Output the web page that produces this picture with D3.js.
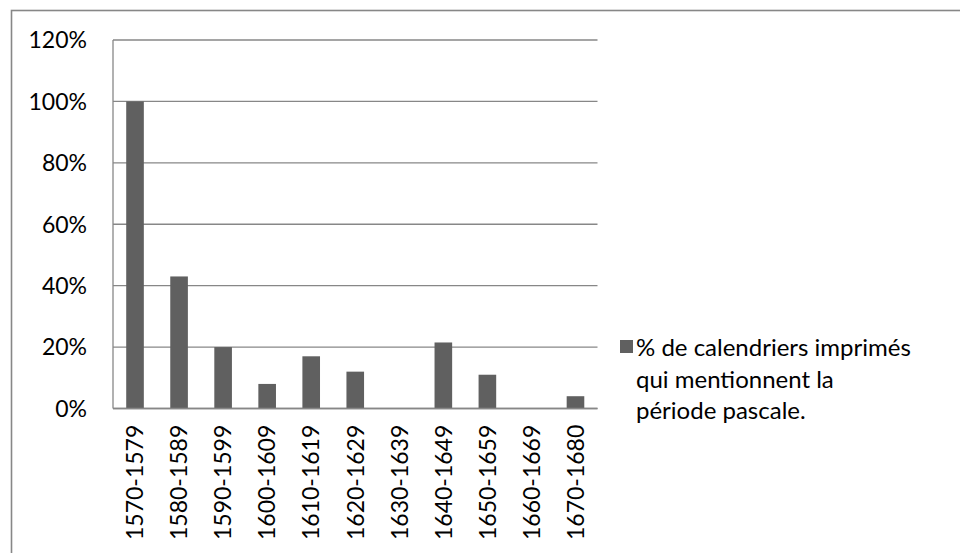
<!DOCTYPE html>
<html>
<head>
<meta charset="utf-8">
<script src="https://cdn.jsdelivr.net/npm/d3@7"></script>
<style>
  html, body { margin: 0; padding: 0; background: #fff; }
  svg { display: block; }
</style>
</head>
<body>
<div id="chart"></div>
<script>
// periods on the x axis
const periods = ["1570-1579", "1580-1589", "1590-1599", "1600-1609", "1610-1619",
  "1620-1629", "1630-1639", "1640-1649", "1650-1659", "1660-1669", "1670-1680"];
// share of printed calendars mentioning the Easter period (%)
const shares = [100, 43, 20, 8, 17, 12, 0, 21.5, 11, 0, 4];
const yTicks = [0, 20, 40, 60, 80, 100, 120];
const seriesName = ["% de calendriers imprimés", "qui mentionnent la", "période pascale."];

const width = 960, height = 553;
const font = "Lato, 'Open Sans', sans-serif";

const svg = d3.select("#chart").append("svg")
    .attr("width", width)
    .attr("height", height)
    .style("font-family", font);

// outer chart frame
svg.append("rect")
    .attr("x", 11.5).attr("y", 10.5)
    .attr("width", width + 10).attr("height", height + 10)
    .attr("fill", "none")
    .attr("stroke", "#878787")
    .attr("stroke-width", 1.6);

const plot = {left: 113, right: 597.5, top: 40, bottom: 408.5};

const x = d3.scaleBand()
    .domain(periods)
    .range([plot.left, plot.right])
    .paddingInner(0.6)
    .paddingOuter(0.3);

const y = d3.scaleLinear()
    .domain([0, 120])
    .range([plot.bottom, plot.top]);

// gridlines
svg.append("g")
    .selectAll("line")
    .data(yTicks)
    .join("line")
    .attr("x1", plot.left).attr("x2", plot.right)
    .attr("y1", d => y(d)).attr("y2", d => y(d))
    .attr("stroke", "#878787")
    .attr("stroke-width", 1.3);

// y tick labels
svg.append("g")
    .selectAll("text")
    .data(yTicks)
    .join("text")
    .attr("x", 87)
    .attr("y", d => y(d))
    .attr("dy", "0.36em")
    .attr("text-anchor", "end")
    .attr("font-size", 23)
    .attr("fill", "#000")
    .text(d => d + "%");

// bars
svg.append("g")
    .selectAll("rect")
    .data(shares)
    .join("rect")
    .attr("x", (d, i) => x(periods[i]))
    .attr("y", d => y(d))
    .attr("width", x.bandwidth())
    .attr("height", d => y(0) - y(d))
    .attr("fill", "#606060");

// axes lines
svg.append("line")
    .attr("x1", plot.left).attr("x2", plot.left)
    .attr("y1", plot.top).attr("y2", plot.bottom)
    .attr("stroke", "#878787").attr("stroke-width", 1.3);
svg.append("line")
    .attr("x1", plot.left).attr("x2", plot.right)
    .attr("y1", plot.bottom).attr("y2", plot.bottom)
    .attr("stroke", "#878787").attr("stroke-width", 1.6);

// rotated x labels
svg.append("g")
    .selectAll("text")
    .data(periods)
    .join("text")
    .attr("transform", d => `translate(${x(d) + x.bandwidth() / 2},540) rotate(-90)`)
    .attr("dy", "0.36em")
    .attr("text-anchor", "start")
    .attr("font-size", 23)
    .attr("fill", "#000")
    .text(d => d);

// legend
svg.append("rect")
    .attr("x", 620).attr("y", 340)
    .attr("width", 13).attr("height", 13)
    .attr("fill", "#606060");

svg.append("text")
    .attr("font-size", 24)
    .attr("fill", "#000")
    .selectAll("tspan")
    .data(seriesName)
    .join("tspan")
    .attr("x", 636)
    .attr("y", (d, i) => 356 + i * 31.5)
    .text(d => d);
</script>
</body>
</html>
